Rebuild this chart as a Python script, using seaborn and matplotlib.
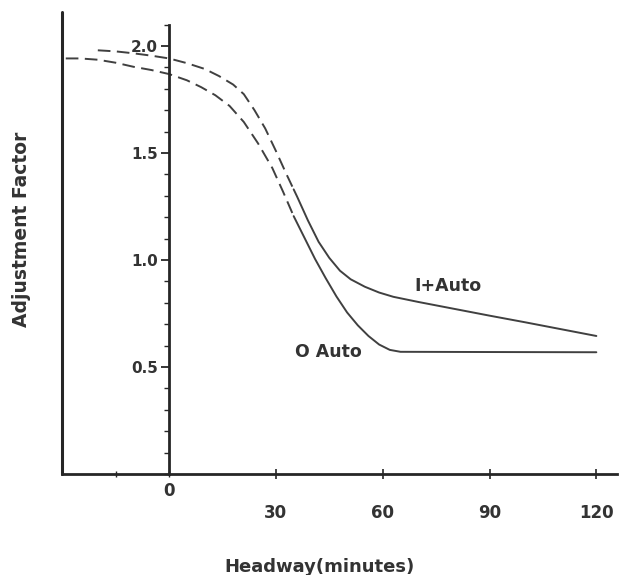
import numpy as np
import pandas as pd
import matplotlib
matplotlib.use("Agg")
import matplotlib.pyplot as plt
import seaborn as sns
from matplotlib.ticker import FixedLocator, MultipleLocator

# ---------------- data ----------------
i_auto_x = [-20, -15, -10, -5, 0, 5, 10, 14, 18, 21, 24, 27, 30, 33, 35, 36, 39, 42, 45, 48,
            51, 55, 59, 63, 70, 80, 90, 100, 110, 120]
i_auto_y = [1.98, 1.975, 1.966, 1.955, 1.942, 1.92, 1.893, 1.86, 1.82, 1.775, 1.70, 1.615, 1.51,
            1.40, 1.33, 1.295, 1.185, 1.085, 1.01, 0.95, 0.91, 0.875, 0.848, 0.828, 0.804, 0.772,
            0.74, 0.709, 0.677, 0.645]

o_auto_x = [-29, -25, -20, -15, -10, -5, 0, 5, 9, 13, 17, 21, 25, 29, 32, 35, 38, 41, 44, 47,
            50, 53, 56, 59, 62, 65, 90, 120]
o_auto_y = [1.942, 1.942, 1.936, 1.922, 1.903, 1.888, 1.869, 1.84, 1.808, 1.77, 1.72, 1.645,
            1.545, 1.43, 1.32, 1.205, 1.105, 1.005, 0.915, 0.83, 0.755, 0.695, 0.645, 0.605,
            0.58, 0.571, 0.57, 0.569]

series_names = ["I+Auto", "O Auto"]
split_x = 35  # curves are dashed left of this headway, solid to the right

x_ticks = [30, 60, 90, 120]
x_tick_labels = ["30", "60", "90", "120"]
x_minor_ticks = [-15, 0]
x_minor_labels = ["", "0"]
y_ticks = [0.5, 1.0, 1.5, 2.0]
y_tick_labels = ["0.5", "1.0", "1.5", "2.0"]

x_label = "Headway(minutes)"
y_label = "Adjustment Factor"

# ---------------- style ----------------
sns.set_theme(style="white")
plt.rcParams["font.family"] = ["DejaVu Sans"]
plt.rcParams["font.weight"] = "bold"

TEXT = "#333333"
AXC = "#262626"
LINEC = "#404040"

XMIN, XMAX = -30.2, 125.8
YMIN, YMAX = 0.0, 2.159

df = pd.concat([
    pd.DataFrame({"series": series_names[0], "x": i_auto_x, "y": i_auto_y}),
    pd.DataFrame({"series": series_names[1], "x": o_auto_x, "y": o_auto_y}),
], ignore_index=True)
df_dash = df[df["x"] <= split_x]
df_solid = df[df["x"] >= split_x]

fig = plt.figure(figsize=(6.22, 5.75), dpi=100)
ax = fig.add_axes([61.5 / 622, (575 - 474) / 575, (617 - 61.5) / 622, (474 - 12) / 575])

sns.lineplot(data=df_dash, x="x", y="y", units="series", estimator=None, sort=False,
             color=LINEC, lw=1.4, linestyle=(0, (6.5, 3.3)), ax=ax, legend=False)
sns.lineplot(data=df_solid, x="x", y="y", units="series", estimator=None, sort=False,
             color=LINEC, lw=1.4, ax=ax, legend=False)

ax.set_xlim(XMIN, XMAX)
ax.set_ylim(YMIN, YMAX)
ax.set_xlabel("")
ax.set_ylabel("")

# spines
for s in ["top", "right"]:
    ax.spines[s].set_visible(False)
ax.spines["left"].set_position(("data", 0))
ax.spines["left"].set_bounds(0, 2.10)
ax.spines["left"].set_linewidth(2.0)
ax.spines["left"].set_color(AXC)
ax.spines["bottom"].set_linewidth(2.0)
ax.spines["bottom"].set_color(AXC)
ax.axvline(XMIN, color=AXC, lw=2.2, clip_on=False)

# y ticks on the x=0 line
ax.yaxis.set_major_locator(FixedLocator(y_ticks))
ax.set_yticklabels(y_tick_labels)
ax.yaxis.set_minor_locator(MultipleLocator(0.1))
ax.tick_params(axis="y", which="major", direction="out", length=6, width=1.3,
               pad=2, labelsize=11, color=AXC, labelcolor=TEXT, left=True)
ax.tick_params(axis="y", which="minor", direction="out", length=3.5, width=1.0,
               color=AXC, left=True)

# x ticks
ax.set_xticks(x_ticks, labels=x_tick_labels)
ax.set_xticks(x_minor_ticks, labels=x_minor_labels, minor=True)
ax.tick_params(axis="x", which="major", direction="inout", length=7, width=1.2,
               pad=18, labelsize=12, color=AXC, labelcolor=TEXT, bottom=True)
ax.tick_params(axis="x", which="minor", direction="inout", length=4, width=1.0,
               pad=4, labelsize=12, color=AXC, labelcolor=TEXT, bottom=True)
for lab in ax.get_xticklabels(which="both") + ax.get_yticklabels():
    lab.set_fontweight("bold")

# curve labels
ax.text(78.4, 0.878, series_names[0], ha="center", va="center", fontsize=12.5,
        fontweight="bold", color=TEXT)
ax.text(44.8, 0.571, series_names[1], ha="center", va="center", fontsize=12.5,
        fontweight="bold", color=TEXT)

# axis titles
fig.text(319.4 / 622, 1 - 566.7 / 575, x_label, ha="center", va="center",
         fontsize=13, fontweight="bold", color=TEXT)
fig.text(21.7 / 622, 1 - 229 / 575, y_label, ha="center", va="center", rotation=90,
         fontsize=13.5, fontweight="bold", color=TEXT)

fig.savefig("out.png", dpi=100, facecolor="white")
